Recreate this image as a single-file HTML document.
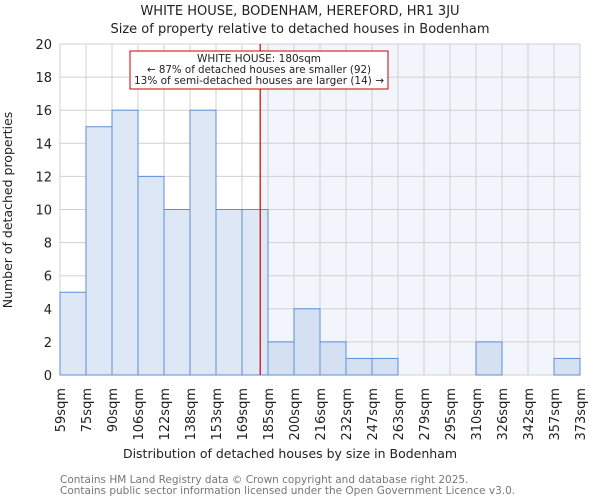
<!DOCTYPE html>
<html><head><meta charset="utf-8"><style>
body{margin:0;background:#fff;}
svg{display:block;font-family:"DejaVu Sans","Liberation Sans",sans-serif;}
</style></head><body>
<svg id="chart" width="600" height="500" viewBox="0 0 600 500">
<text x="300" y="15" text-anchor="middle" font-size="13" fill="#222">WHITE HOUSE, BODENHAM, HEREFORD, HR1 3JU</text>
<text x="300" y="33" text-anchor="middle" font-size="13" fill="#222">Size of property relative to detached houses in Bodenham</text>
<g id="plot"></g>
<text x="290" y="458" text-anchor="middle" font-size="12.5" fill="#222">Distribution of detached houses by size in Bodenham</text>
<text transform="translate(12,210) rotate(-90)" text-anchor="middle" font-size="12.5" fill="#222">Number of detached properties</text>
<text x="60" y="483" font-size="10.5" fill="#777">Contains HM Land Registry data © Crown copyright and database right 2025.</text>
<text x="60" y="494" font-size="10.5" fill="#777">Contains public sector information licensed under the Open Government Licence v3.0.</text>
</svg>
<script>
const categories=["59sqm","75sqm","90sqm","106sqm","122sqm","138sqm","153sqm","169sqm","185sqm","200sqm","216sqm","232sqm","247sqm","263sqm","279sqm","295sqm","310sqm","326sqm","342sqm","357sqm","373sqm"];
const counts=[5,15,16,12,10,16,10,10,2,4,2,1,1,0,0,0,2,0,0,1];
const yTicks=[0,2,4,6,8,10,12,14,16,18,20];
const markerBin=7.7;
const NS="http://www.w3.org/2000/svg";
const g=document.getElementById('plot');
const X0=60,X1=580,Y0=375,Y1=44,yMax=20;
const bw=(X1-X0)/counts.length;
const xs=i=>X0+i*bw;
const ys=v=>Y0-(v/yMax)*(Y0-Y1);
function mk(t,a){const e=document.createElementNS(NS,t);for(const k in a)e.setAttribute(k,a[k]);g.appendChild(e);return e;}
const mx=xs(markerBin);
let r=mk('rect',{x:mx,y:Y1,width:X1-mx,height:Y0-Y1,fill:'#f2f5fc'});


for(let i=0;i<=counts.length;i++){let l=mk('line',{x1:xs(i),x2:xs(i),y1:Y1,y2:Y0,stroke:'#d0d0d0','stroke-width':1});

}
yTicks.forEach(v=>{let l=mk('line',{x1:X0,x2:X1,y1:ys(v),y2:ys(v),stroke:'#d0d0d0','stroke-width':1});


let t=mk('text',{x:X0-8,y:ys(v)+5,'text-anchor':'end','font-size':13,fill:'#222'});t.textContent=v;

});
counts.forEach((c,i)=>{if(c<=0)return;let b=mk('rect',{x:xs(i),y:ys(c),width:bw,height:Y0-ys(c),fill:i>=8?'#d5e1f2':'#dde7f5',stroke:'#5b8fd9','stroke-width':1});

});
categories.forEach((c,i)=>{let t=mk('text',{transform:`translate(${xs(i)+5},388) rotate(-90)`,'text-anchor':'end','font-size':13,fill:'#222'});t.textContent=c;

});
let ml=mk('line',{x1:mx,x2:mx,y1:Y1,y2:Y0,stroke:'#cc0000','stroke-width':1.2});


let ab=mk('rect',{x:130,y:51,width:258,height:38,fill:'#fff',stroke:'#cc0000','stroke-width':1});


const lens=[124,224,250];
["WHITE HOUSE: 180sqm","← 87% of detached houses are smaller (92)","13% of semi-detached houses are larger (14) →"].forEach((s,k)=>{let t=mk('text',{x:259,y:62+k*11,'text-anchor':'middle','font-size':10.5,fill:'#222','font-family':'"DejaVu Sans Condensed","DejaVu Sans",sans-serif','font-stretch':'condensed',textLength:lens[k],lengthAdjust:'spacingAndGlyphs'});t.textContent=s;

});
</script>
</body></html>
